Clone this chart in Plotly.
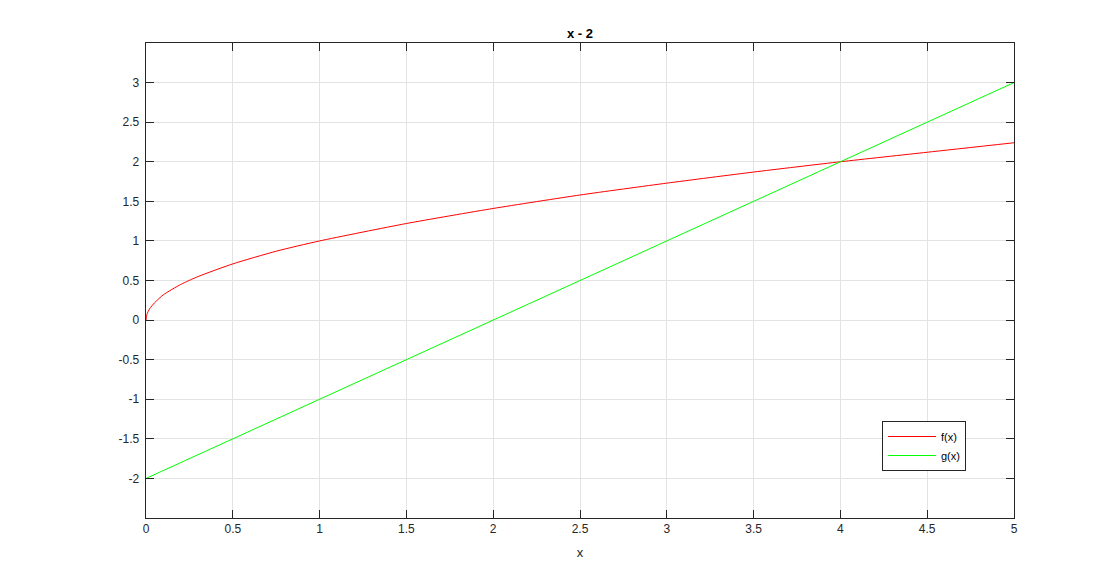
import plotly.graph_objects as go

# f(x)
x_f = [0, 0.005, 0.02, 0.05, 0.1, 0.2, 0.3, 0.5, 0.75, 1.0, 1.5, 2.0, 2.5, 3.0, 3.5, 4.0, 4.5, 5.0]
y_f = [0, 0.07, 0.14, 0.22, 0.32, 0.45, 0.55, 0.71, 0.87, 1.0, 1.22, 1.41, 1.58, 1.73, 1.87, 2.0, 2.12, 2.24]

# g(x)
x_g = [0, 5]
y_g = [-2, 3]

x_ticks = [0, 0.5, 1, 1.5, 2, 2.5, 3, 3.5, 4, 4.5, 5]
y_ticks = [-2, -1.5, -1, -0.5, 0, 0.5, 1, 1.5, 2, 2.5, 3]

fig = go.Figure()
fig.add_trace(go.Scatter(x=x_f, y=y_f, mode='lines', name='f(x)',
                         line=dict(color='#ff0000', width=1, shape='spline', smoothing=0.6)))
fig.add_trace(go.Scatter(x=x_g, y=y_g, mode='lines', name='g(x)',
                         line=dict(color='#00ff00', width=1)))

axis_style = dict(
    showline=True, linecolor='#262626', linewidth=1, mirror='all',
    ticks='inside', ticklen=8, tickcolor='#262626',
    showgrid=True, gridcolor='#e3e3e3', gridwidth=1,
    zeroline=False,
    tickfont=dict(family='Liberation Sans, Arial', size=12, color='#262626'),
)

# the page body has an 8px margin, so the figure is laid out 8px up/left
fig.update_layout(
    width=1120, height=582,
    margin=dict(l=138, r=114, t=35, b=72),
    paper_bgcolor='white', plot_bgcolor='white',
    title=dict(text='<b>x - 2</b>', x=(138 + 1006) / 2 / 1120, xanchor='center',
               y=1 - 25 / 582, yanchor='middle',
               font=dict(family='Liberation Sans, Arial', size=13, color='#000000')),
    xaxis=dict(range=[0, 5], tickvals=x_ticks, ticktext=[f'{v:g}' for v in x_ticks],
               title=dict(text='x', font=dict(family='Liberation Sans, Arial', size=13, color='#262626'),
                          standoff=12),
               **axis_style),
    yaxis=dict(range=[-2.5, 3.5], tickvals=y_ticks, ticktext=[f'{v:g} ' for v in y_ticks],
               **axis_style),
    showlegend=True,
    legend=dict(x=(882 - 146) / 868, y=1 - (421 - 43) / 475, xanchor='left', yanchor='top',
                bgcolor='white', bordercolor='#262626', borderwidth=1,
                font=dict(family='Liberation Sans, Arial', size=11, color='#000000'),
                itemwidth=48, tracegroupgap=0),
)

fig.write_html("out.html")
